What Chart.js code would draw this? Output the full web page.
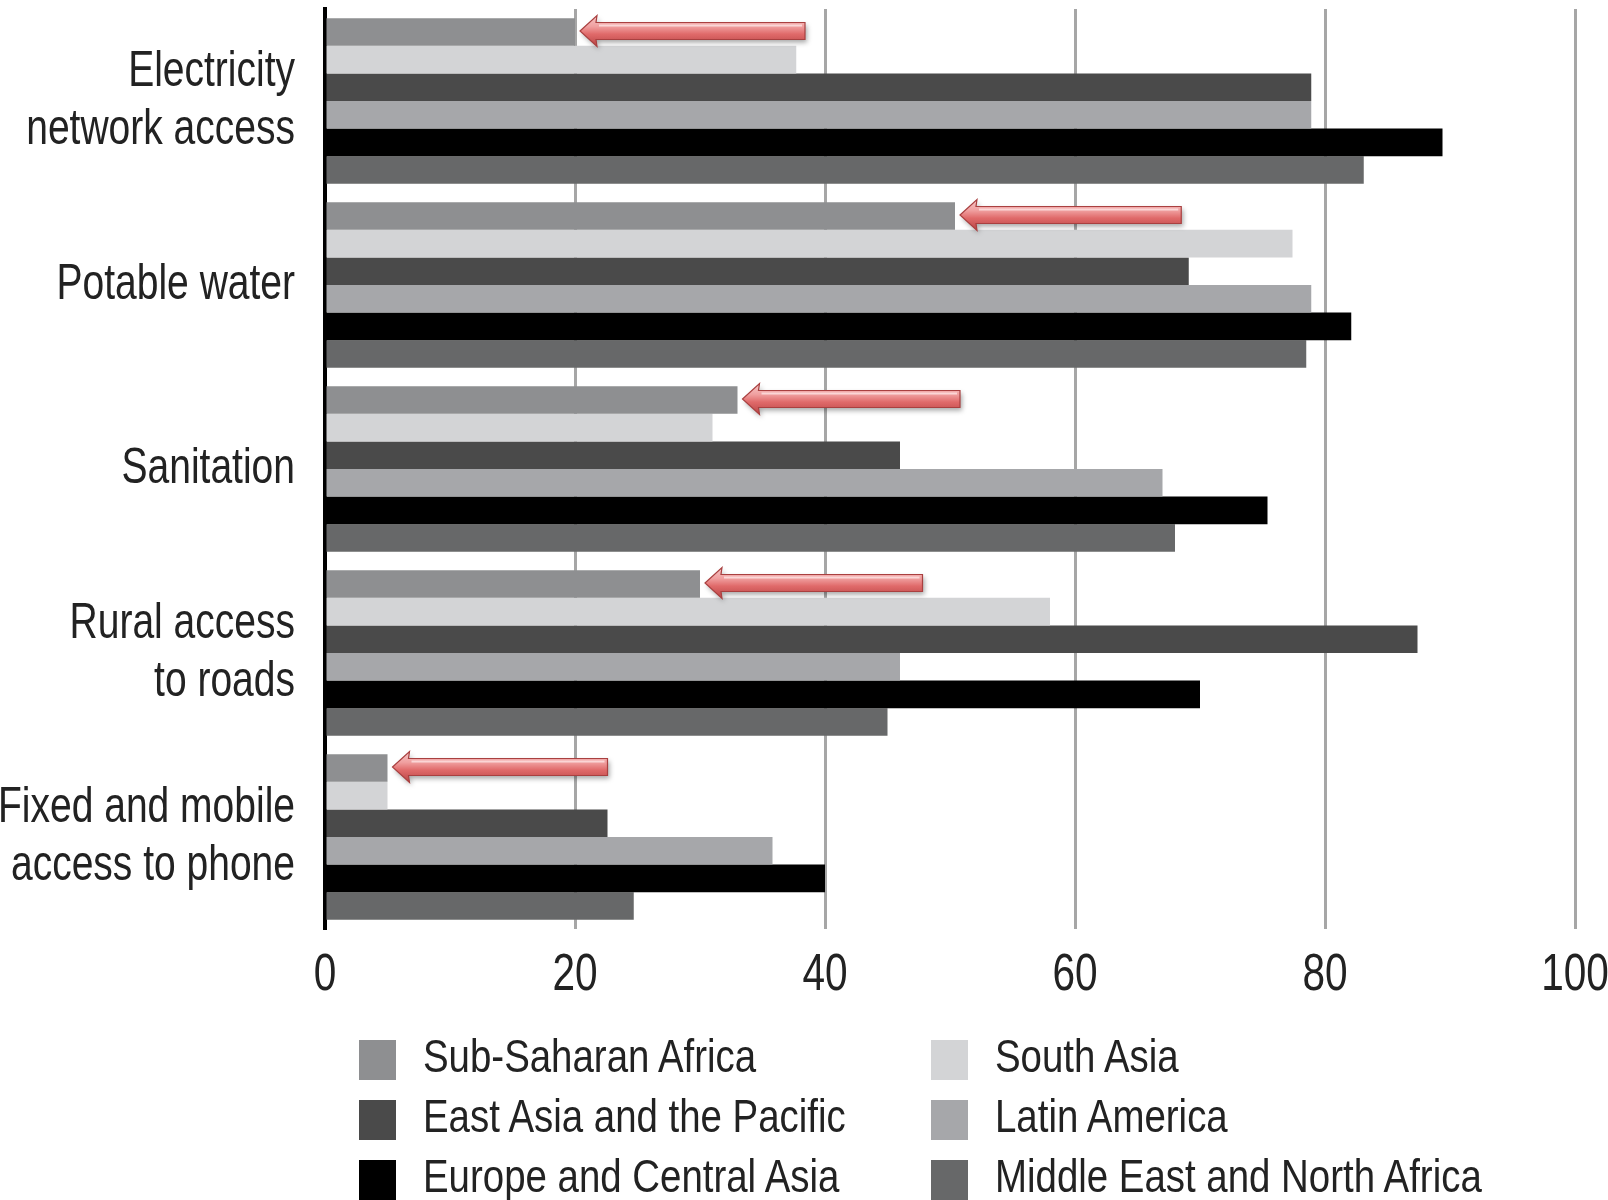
<!DOCTYPE html>
<html>
<head>
<meta charset="utf-8">
<script src="https://cdn.jsdelivr.net/npm/chart.js@4.4.1/dist/chart.umd.min.js"></script>
<style>
  html, body { margin: 0; padding: 0; background: #fff; }
  #wrap { position: relative; width: 1608px; height: 1200px; overflow: hidden; }
  #chart { position: absolute; left: 0; top: 0; }
  .lg-box { position: absolute; width: 37px; height: 40px; }
  .lg-text {
    position: absolute; white-space: nowrap;
    font-family: 'Liberation Sans', Arial, sans-serif;
    font-size: 46px; line-height: 46px; color: #222;
    transform: scaleX(0.835); transform-origin: left center;
  }
</style>
</head>
<body>
<div id="wrap">
  <canvas id="chart" width="1608" height="1200"></canvas>
  <div id="legend"></div>
</div>
<script>
// Infrastructure access by region (percent)
const categories = [
  ['Electricity', 'network access'],
  'Potable water',
  'Sanitation',
  ['Rural access', 'to roads'],
  ['Fixed and mobile', 'access to phone']
];

const subSaharanAfrica      = [20, 50.4, 33, 30, 5];
const southAsia             = [37.7, 77.4, 31, 58, 5];
const eastAsiaPacific       = [78.9, 69.1, 46, 87.4, 22.6];
const latinAmerica          = [78.9, 78.9, 67, 46, 35.8];
const europeCentralAsia     = [89.4, 82.1, 75.4, 70, 40];
const middleEastNorthAfrica = [83.1, 78.5, 68, 45, 24.7];

// Where each highlight arrow's tail ends (same units as the value axis)
const arrowTails = [38.4, 68.5, 50.8, 47.8, 22.6];

const xTicks = [0, 20, 40, 60, 80, 100];

const FONT = "'Liberation Sans', Arial, sans-serif";
const TEXT_SQUEEZE = 0.78;   // horizontal condensing of axis text

const seriesList = [
  { label: 'Sub-Saharan Africa',           data: subSaharanAfrica,      color: '#8e8f91' },
  { label: 'South Asia',                   data: southAsia,             color: '#d3d4d6' },
  { label: 'East Asia and the Pacific',    data: eastAsiaPacific,       color: '#4a4a4a' },
  { label: 'Latin America',                data: latinAmerica,          color: '#a6a7aa' },
  { label: 'Europe and Central Asia',      data: europeCentralAsia,     color: '#000000' },
  { label: 'Middle East and North Africa', data: middleEastNorthAfrica, color: '#676869' }
];

// Left-pointing red arrows drawn next to the Sub-Saharan Africa bars
function drawArrow(ctx, tipX, tailX, cy) {
  const shaft = 8.5, head = 15.5, headLen = 17;
  ctx.save();
  ctx.beginPath();
  ctx.moveTo(tipX, cy);
  ctx.lineTo(tipX + headLen, cy - head);
  ctx.lineTo(tipX + headLen - 1, cy - shaft);
  ctx.lineTo(tailX, cy - shaft);
  ctx.lineTo(tailX, cy + shaft);
  ctx.lineTo(tipX + headLen - 1, cy + shaft);
  ctx.lineTo(tipX + headLen, cy + head);
  ctx.closePath();
  const g = ctx.createLinearGradient(0, cy - head, 0, cy + head);
  g.addColorStop(0, '#f6c6c6');
  g.addColorStop(0.35, '#f0a0a0');
  g.addColorStop(0.6, '#e06a6a');
  g.addColorStop(1, '#b84444');
  ctx.shadowColor = 'rgba(0,0,0,0.35)';
  ctx.shadowBlur = 5;
  ctx.shadowOffsetX = 2;
  ctx.shadowOffsetY = 3;
  ctx.fillStyle = g;
  ctx.fill();
  ctx.shadowColor = 'transparent';
  ctx.lineWidth = 1.2;
  ctx.strokeStyle = '#a94040';
  ctx.stroke();
  // highlight along the top of the shaft
  ctx.beginPath();
  ctx.moveTo(tipX + headLen + 2, cy - shaft + 3);
  ctx.lineTo(tailX - 3, cy - shaft + 3);
  ctx.lineWidth = 2;
  ctx.strokeStyle = 'rgba(255,235,235,0.7)';
  ctx.stroke();
  ctx.restore();
}

const arrowPlugin = {
  id: 'ssaArrows',
  afterDatasetsDraw(chart) {
    const meta = chart.getDatasetMeta(0);
    const xs = chart.scales.x;
    meta.data.forEach((bar, i) => {
      const tipX = bar.x + 5;
      const tailX = xs.getPixelForValue(arrowTails[i]);
      drawArrow(chart.ctx, tipX, tailX, bar.y - 1);
    });
  }
};

// Condensed lettering for the axis labels: every text call is squeezed
// horizontally around its own anchor point, so alignment is preserved.
const condensedText = {
  id: 'condensedText',
  beforeDraw(chart) {
    const ctx = chart.ctx;
    if (ctx._plainFillText) return;
    const plain = ctx.fillText;
    ctx._plainFillText = plain;
    ctx.fillText = function (text, x, y) {
      this.save();
      this.translate(x, y);
      this.scale(TEXT_SQUEEZE, 1);
      plain.call(this, text, 0, 0);
      this.restore();
    };
  }
};

const chart = new Chart(document.getElementById('chart'), {
  type: 'bar',
  data: {
    labels: categories,
    datasets: seriesList.map(s => ({
      label: s.label,
      data: s.data,
      backgroundColor: s.color,
      borderWidth: 0,
      categoryPercentage: 0.9,
      barPercentage: 1.0
    }))
  },
  options: {
    indexAxis: 'y',
    responsive: false,
    animation: false,
    devicePixelRatio: 1,
    layout: { padding: { top: 9, left: 0, right: 33, bottom: 0 } },
    plugins: {
      legend: { display: false },
      tooltip: { enabled: false }
    },
    scales: {
      x: {
        type: 'linear',
        position: 'bottom',
        min: 0,
        max: 100,
        afterBuildTicks(scale) { scale.ticks = xTicks.map(v => ({ value: v })); },
        afterFit(scale) { scale.height = 271; scale.paddingLeft = 0; scale.paddingRight = 0; },
        grid: { color: '#a6a6a6', lineWidth: 3, drawTicks: false },
        border: { display: false },
        ticks: {
          padding: 15,
          color: '#222',
          font: { family: FONT, size: 52 },
          maxRotation: 0,
          autoSkip: false
        }
      },
      y: {
        type: 'category',
        afterFit(scale) { scale.width = 325; scale.paddingTop = 0; scale.paddingBottom = 0; },
        grid: { display: false, drawTicks: false },
        border: { display: true, color: '#000', width: 4 },
        ticks: {
          padding: 30,
          color: '#222',
          font: { family: FONT, size: 50, lineHeight: 1.16 }
        }
      }
    }
  },
  plugins: [condensedText, arrowPlugin]
});
chart.draw();

// Two-column legend built from the chart's datasets
const legendEl = document.getElementById('legend');
const legendCols = [359, 931];
const legendTop = 1040, legendRow = 60, textGap = 64;
chart.data.datasets.forEach((ds, i) => {
  const col = i % 2, row = Math.floor(i / 2);
  const x = legendCols[col], y = legendTop + row * legendRow;
  const box = document.createElement('div');
  box.className = 'lg-box';
  box.style.left = x + 'px';
  box.style.top = y + 'px';
  box.style.background = ds.backgroundColor;
  const txt = document.createElement('div');
  txt.className = 'lg-text';
  txt.style.left = (x + textGap) + 'px';
  txt.style.top = (y - 7) + 'px';
  txt.textContent = ds.label;
  legendEl.appendChild(box);
  legendEl.appendChild(txt);
});
</script>
</body>
</html>
